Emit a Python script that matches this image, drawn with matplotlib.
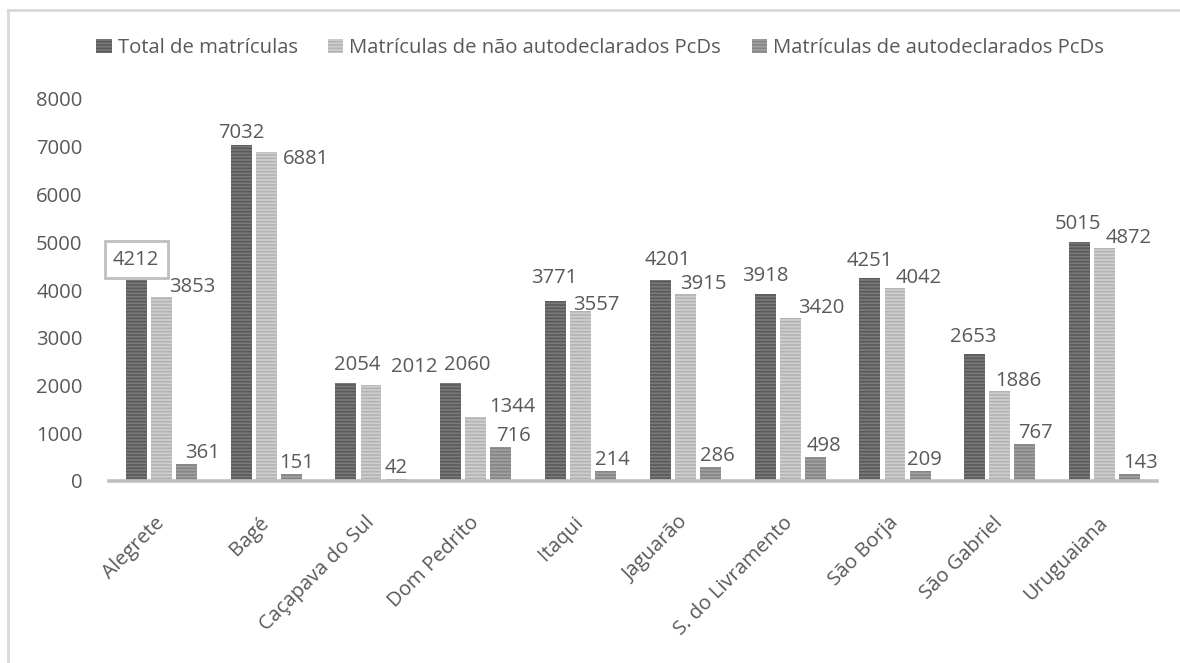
import matplotlib
matplotlib.use("Agg")
import matplotlib.pyplot as plt
from matplotlib.lines import Line2D
from matplotlib.transforms import ScaledTranslation
import numpy as np

categories = ["Alegrete", "Bagé", "Caçapava do Sul", "Dom Pedrito", "Itaqui",
              "Jaguarão", "S. do Livramento", "São Borja", "São Gabriel", "Uruguaiana"]
series_names = ["Total de matrículas",
                "Matrículas de não autodeclarados PcDs",
                "Matrículas de autodeclarados PcDs"]
total = [4212, 7032, 2054, 2060, 3771, 4201, 3918, 4251, 2653, 5015]
nao_pcd = [3853, 6881, 2012, 1344, 3557, 3915, 3420, 4042, 1886, 4872]
pcd = [361, 151, 42, 716, 214, 286, 498, 209, 767, 143]
yticks = [0, 1000, 2000, 3000, 4000, 5000, 6000, 7000, 8000]

# styling
FONT = "Open Sans"
FS = 14.6
TXT = "#595959"
faces = ["#7a7a7a", "#cfcfcf", "#a0a0a0"]
hatchc = ["#5a5a5a", "#b3b3b3", "#858585"]
# label nudges (points) to mimic Excel's manual label placement
dx = [[0, 0, 8, 12, -1, 5.4, 0, 0, -1, -1],
      [22, 29, 31, 26, 11.5, 13, 22, 17, 13, 17.6],
      [11.5, 4, 0, 9, 5, 5, 6, 3, 7.5, 7.5]]
dy = [[9] * 10, [3.6] * 10, [4.3] * 10]
dy[0][0] = 11
dy[0][1] = 5
dy[0][4] = 13
dy[0][5] = 11
dy[1][1] = -8
dy[1][2] = 9
dy[1][4] = 0.7

plt.rcParams['font.family'] = [FONT, 'DejaVu Sans']
plt.rcParams['hatch.linewidth'] = 1.2

fig = plt.figure(figsize=(11.8, 6.63), dpi=100)
ax = fig.add_axes([109 / 1180, 1 - 481 / 663, 1048 / 1180, (481 - 99) / 663])

x = np.arange(len(categories))
w = 0.2
offs = [-0.24, 0.0, 0.24]
data = [total, nao_pcd, pcd]
handles = []
for i, vals in enumerate(data):
    bars = ax.bar(x + offs[i], vals, w, color=faces[i], edgecolor=hatchc[i],
                  linewidth=0, hatch='-----', label=series_names[i], zorder=2)
    handles.append(bars)
    for j, (b, v) in enumerate(zip(bars, vals)):
        cx = b.get_x() + b.get_width() / 2
        kw = {}
        if i == 0 and j == 0:
            kw['bbox'] = dict(boxstyle='square,pad=0.42', fc='white', ec='#bfbfbf', lw=2)
        ax.annotate(str(v), (cx, v), xytext=(dx[i][j], dy[i][j]),
                    textcoords='offset points', ha='center', va='baseline',
                    fontsize=FS, color=TXT, zorder=3, **kw)

ax.set_xlim(-0.5, len(categories) - 0.5)
ax.set_ylim(0, 8000)
ax.set_yticks(yticks)
ax.set_yticklabels([str(t) for t in yticks], fontsize=FS, color=TXT)
ax.set_xticks(x)
ax.set_xticklabels(categories, rotation=45, ha='right', va='center',
                   rotation_mode='anchor', fontsize=FS, color=TXT)
shift = ScaledTranslation(-1 / 100, 0, fig.dpi_scale_trans)
for lab in ax.get_xticklabels():
    lab.set_transform(lab.get_transform() + shift)
ax.tick_params(axis='both', length=0)
ax.tick_params(axis='y', pad=19)
ax.tick_params(axis='x', pad=28)
for s in ['top', 'right', 'left']:
    ax.spines[s].set_visible(False)
ax.spines['bottom'].set_color('#bfbfbf')
ax.spines['bottom'].set_linewidth(2.6)
ax.spines['bottom'].set_zorder(4)

leg = fig.legend(handles=handles, labels=series_names, loc='center',
                 bbox_to_anchor=(600 / 1180, 1 - 48 / 663), ncol=3, frameon=False,
                 fontsize=FS, handlelength=0.75, handleheight=0.75,
                 handletextpad=0.3, columnspacing=1.5, borderaxespad=0)
for t in leg.get_texts():
    t.set_color(TXT)

# outer frame (top and left edges visible)
fig.add_artist(Line2D([7.5 / 1180, 7.5 / 1180], [0, 1 - 10 / 663], color='#d9d9d9',
                      lw=2, transform=fig.transFigure))
fig.add_artist(Line2D([7.5 / 1180, 1], [1 - 10 / 663, 1 - 10 / 663], color='#d9d9d9',
                      lw=2, transform=fig.transFigure))

fig.savefig("out.png", dpi=100, facecolor='white')
